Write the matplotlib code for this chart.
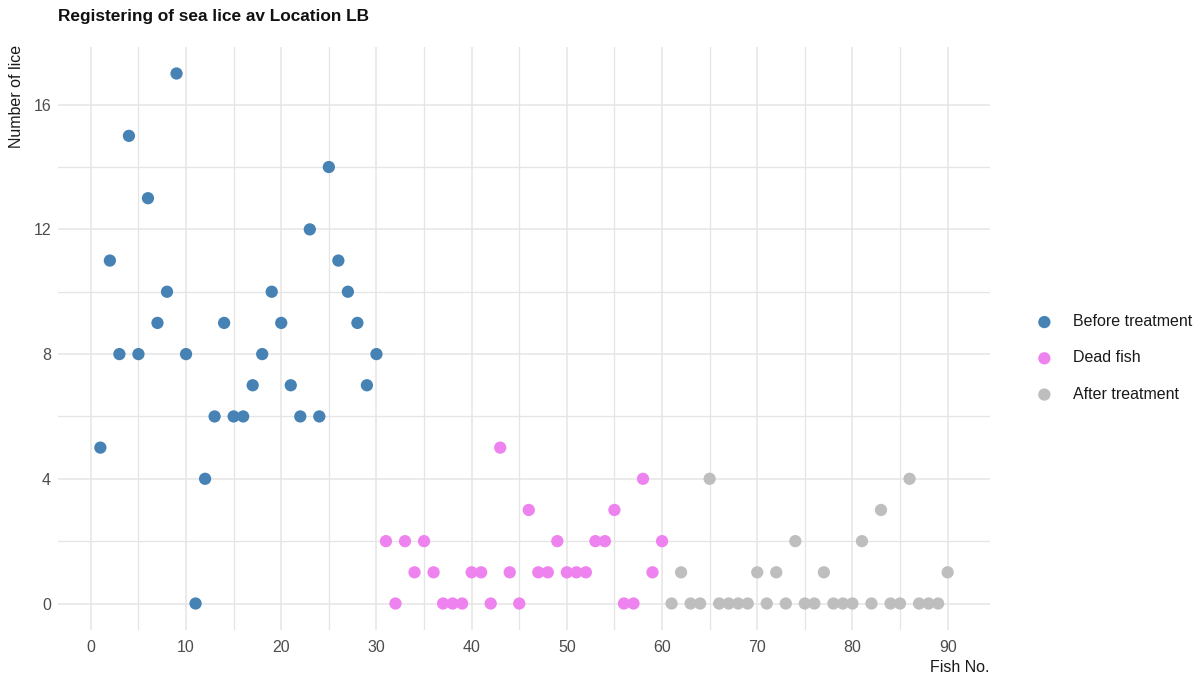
import matplotlib
matplotlib.use("Agg")
import matplotlib.pyplot as plt
from matplotlib.ticker import MultipleLocator

plt.rcParams['font.family'] = ['Liberation Sans', 'DejaVu Sans']

# Lice counts per fish, grouped by sampling phase
before_fish = list(range(1, 31))
before_lice = [5, 11, 8, 15, 8, 13, 9, 10, 17, 8,
               0, 4, 6, 9, 6, 6, 7, 8, 10, 9,
               7, 6, 12, 6, 14, 11, 10, 9, 7, 8]

dead_fish = list(range(31, 61))
dead_lice = [2, 0, 2, 1, 2, 1, 0, 0, 0, 1,
             1, 0, 5, 1, 0, 3, 1, 1, 2, 1,
             1, 1, 2, 2, 3, 0, 0, 4, 1, 2]

after_fish = list(range(61, 91))
after_lice = [0, 1, 0, 0, 4, 0, 0, 0, 0, 1,
              0, 1, 0, 2, 0, 0, 1, 0, 0, 0,
              2, 0, 3, 0, 0, 4, 0, 0, 0, 1]

groups = ["Before treatment", "Dead fish", "After treatment"]
colors = ["#4682B4", "#EE82EE", "#BEBEBE"]

x_ticks = [0, 10, 20, 30, 40, 50, 60, 70, 80, 90]
y_ticks = [0, 4, 8, 12, 16]

W, H = 1204, 682
fig = plt.figure(figsize=(W / 100, H / 100), dpi=100)
left, right, top, bottom = 58, 990, 47, 630
ax = fig.add_axes([left / W, 1 - bottom / H, (right - left) / W, (bottom - top) / H])

series = [(before_fish, before_lice), (dead_fish, dead_lice), (after_fish, after_lice)]
for (xs, ys), name, col in zip(series, groups, colors):
    ax.scatter(xs, ys, s=78, color=col, edgecolors="none", label=name, zorder=3)

# ggplot-style 5% expansion on both axes
all_x = before_fish + dead_fish + after_fish
all_y = before_lice + dead_lice + after_lice
xr = max(all_x) - min(all_x)
yr = max(all_y) - min(all_y)
ax.set_xlim(min(all_x) - 0.05 * xr, max(all_x) + 0.05 * xr)
ax.set_ylim(min(all_y) - 0.05 * yr, max(all_y) + 0.05 * yr)

ax.set_xticks(x_ticks)
ax.set_yticks(y_ticks)
ax.xaxis.set_minor_locator(MultipleLocator(5))
ax.yaxis.set_minor_locator(MultipleLocator(2))
ax.grid(which="major", color="#E5E5E5", linewidth=1.1)
ax.grid(which="minor", color="#E5E5E5", linewidth=0.9)
ax.set_axisbelow(True)
for sp in ax.spines.values():
    sp.set_visible(False)
ax.tick_params(which="both", length=0)
ax.tick_params(axis="x", pad=7, labelsize=11.5, labelcolor="#4D4D4D")
ax.tick_params(axis="y", pad=5, labelsize=11.5, labelcolor="#4D4D4D")

fig.text(58 / W, 1 - 17 / H, "Registering of sea lice av Location LB",
         fontsize=12.4, fontweight="bold", ha="left", va="center", color="#111111")
fig.text(17 / W, 1 - 45 / H, "Number of lice", rotation=90, fontsize=11.5,
         ha="center", va="top", color="#1A1A1A")
fig.text(990 / W, 1 - 668 / H, "Fish No.", fontsize=11.5,
         ha="right", va="center", color="#1A1A1A")

leg = fig.legend(loc="center left", bbox_to_anchor=(1022 / W, 1 - 358 / H),
                 frameon=False, fontsize=11.5, labelspacing=1.33,
                 handletextpad=1.3, handlelength=1.0, markerscale=1.0)
for t in leg.get_texts():
    t.set_color("#1A1A1A")

fig.savefig("out.png", dpi=100, facecolor="white")
